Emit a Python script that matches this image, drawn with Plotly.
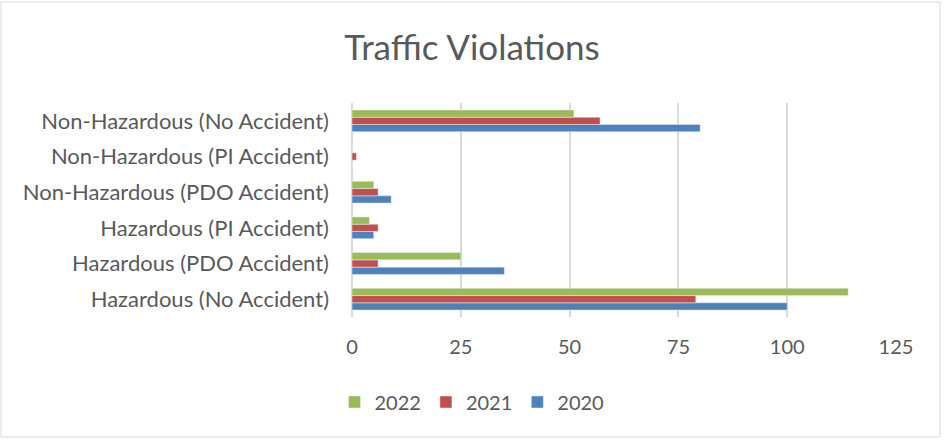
import plotly.graph_objects as go

categories = [
    "Hazardous (No Accident)",
    "Hazardous (PDO Accident)",
    "Hazardous (PI Accident)",
    "Non-Hazardous (PDO Accident)",
    "Non-Hazardous (PI Accident)",
    "Non-Hazardous (No Accident)",
]
v2020 = [100, 35, 5, 9, 0, 80]
v2021 = [79, 6, 6, 6, 1, 57]
v2022 = [114, 25, 4, 5, 0, 51]

fig = go.Figure()
fig.add_trace(go.Bar(y=categories, x=v2020, name="2020", orientation="h", marker_color="#4F81BD"))
fig.add_trace(go.Bar(y=categories, x=v2021, name="2021", orientation="h", marker_color="#C0504D"))
fig.add_trace(go.Bar(y=categories, x=v2022, name="2022", orientation="h", marker_color="#9BBB59"))

grey = "#595959"
fig.update_layout(
    width=944, height=440,
    margin=dict(l=352, r=48, t=103, b=123),
    paper_bgcolor="white", plot_bgcolor="white",
    font=dict(family="Lato", size=20, color=grey),
    title=dict(text="Traffic Violations", x=0.5, xanchor="center", y=1 - 48 / 440, yanchor="middle",
               font=dict(size=35, color=grey)),
    barmode="group", bargap=0.39, bargroupgap=0,
    showlegend=True,
    legend=dict(orientation="h", traceorder="reversed", xref="container", yref="container",
                x=0.5, xanchor="center", y=1 - 402 / 440, yanchor="middle",
                font=dict(size=20, color=grey)),
    xaxis=dict(range=[0, 125], dtick=25, showgrid=True, gridcolor="#d9d9d9", gridwidth=2,
               zeroline=True, zerolinecolor="#d9d9d9", zerolinewidth=2, showline=False,
               ticks="", ticklabelstandoff=16),
    yaxis=dict(showgrid=False, showline=False, ticks="", ticklabelstandoff=22,
               tickfont=dict(size=22)),
    shapes=[dict(type="rect", xref="paper", yref="paper",
                 x0=(1 - 352) / 544, x1=(940 - 352) / 544,
                 y0=(317 - 437) / 214, y1=(317 - 2) / 214,
                 line=dict(color="#d9d9d9", width=1), fillcolor="rgba(0,0,0,0)", layer="below")],
)

fig.write_html("out.html", config={"displayModeBar": False},
               post_script="document.body.style.margin='0px';")
